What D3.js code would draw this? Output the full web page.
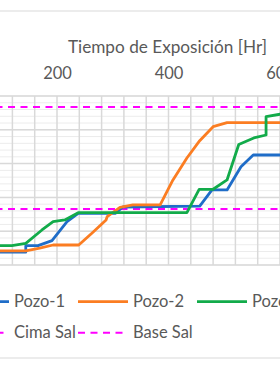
<!DOCTYPE html>
<html>
<head>
<meta charset="utf-8">
<script src="https://cdn.jsdelivr.net/npm/d3@7"></script>
<style>
  html, body { margin: 0; padding: 0; background: #ffffff; }
  svg { display: block; }
  text { font-family: Lato, "Open Sans", sans-serif; fill: #595959; }
</style>
</head>
<body>
<svg id="chart" width="280" height="376"></svg>
<script>
// ---- data (hours of exposure vs depth in m) ----
const seriesNames = ["Pozo-1", "Pozo-2", "Pozo-3"];
const seriesColors = ["#1f6dc8", "#fb7d22", "#12ab4a"];

const pozo1Hours = [0, 144, 144, 166, 191, 218, 238, 305, 318, 456, 478, 505, 530, 552, 640];
const pozo1Depth = [5310, 5310, 5214, 5214, 5140, 4859, 4735, 4735, 4642, 4630, 4390, 4390, 4046, 3873, 3873];

const pozo2Hours = [0, 144, 169, 193, 239, 263, 288, 290, 313, 336, 385, 408, 433, 456, 480, 505, 640];
const pozo2Depth = [5290, 5290, 5252, 5204, 5204, 5026, 4834, 4785, 4646, 4612, 4612, 4242, 3917, 3661, 3454, 3395, 3395];

const pozo3Hours = [0, 119, 144, 173, 193, 214, 238, 433, 455, 480, 505, 526, 553, 575, 575, 600, 640];
const pozo3Depth = [5214, 5214, 5179, 4982, 4859, 4834, 4726, 4726, 4380, 4380, 4242, 3717, 3621, 3577, 3306, 3270, 3250];

const refNames = ["Cima Sal", "Base Sal"];
const refDepths = [3163, 4671];
const refColor = "#ff00ff";

const xTickValues = [200, 400, 600];
const xAxisTitle = "Tiempo de Exposición [Hr]";

// ---- layout ----
const svg = d3.select("#chart");
const plotTop = 96, plotBottom = 265;
const x = d3.scaleLinear().domain([200, 400]).range([57, 168.5]);
const y = d3.scaleLinear().domain([3000, 5500]).range([plotTop, plotBottom]);
const xMin = 0, xMax = 800;

svg.append("rect").attr("x", 0).attr("y", 0).attr("width", 280).attr("height", 376).attr("fill", "#fff");
// outer chart border
svg.append("rect").attr("x", -20).attr("y", 11).attr("width", 320).attr("height", 347)
  .attr("fill", "none").attr("stroke", "#d9d9d9").attr("stroke-width", 1);

// minor horizontal grid
const g = svg.append("g");
g.selectAll("line.hminor").data(d3.range(3000, 5501, 100)).join("line")
  .attr("x1", x(xMin)).attr("x2", x(xMax))
  .attr("y1", d => y(d)).attr("y2", d => y(d))
  .attr("stroke", "#ececec").attr("stroke-width", 1);
// vertical grid
g.selectAll("line.v").data(d3.range(0, 801, 40)).join("line")
  .attr("x1", d => x(d)).attr("x2", d => x(d))
  .attr("y1", plotTop).attr("y2", plotBottom)
  .attr("stroke", "#d9d9d9").attr("stroke-width", 1.5);
// major horizontal grid
g.selectAll("line.hmajor").data(d3.range(3000, 5501, 500)).join("line")
  .attr("x1", x(xMin)).attr("x2", x(xMax))
  .attr("y1", d => y(d)).attr("y2", d => y(d))
  .attr("stroke", "#d9d9d9").attr("stroke-width", 1.5);

// top axis
const axis = d3.axisTop(x).tickValues(xTickValues).tickSize(0).tickPadding(0);
const ax = svg.append("g").attr("transform", `translate(0,${plotTop})`).call(axis);
ax.select(".domain").remove();
ax.selectAll("text").attr("y", -17).attr("font-size", 16.5).attr("fill", "#595959")
  .style("font-family", "Lato, 'Open Sans', sans-serif");

svg.append("text").attr("x", 167.5).attr("y", 53).attr("text-anchor", "middle")
  .attr("font-size", 17.2).text(xAxisTitle);

// reference lines
refDepths.forEach(d => {
  svg.append("line").attr("x1", x(xMin)).attr("x2", x(xMax))
    .attr("y1", y(d)).attr("y2", y(d))
    .attr("stroke", refColor).attr("stroke-width", 2).attr("stroke-dasharray", "7,5.5");
});

// series
const hours = [pozo1Hours, pozo2Hours, pozo3Hours];
const depths = [pozo1Depth, pozo2Depth, pozo3Depth];
const line = d3.line().x(d => x(d[0])).y(d => y(d[1]));
[0, 1, 2].forEach(i => {
  const pts = hours[i].map((h, k) => [h, depths[i][k]]);
  svg.append("path").datum(pts).attr("d", line)
    .attr("fill", "none").attr("stroke", seriesColors[i])
    .attr("stroke-width", 2.8).attr("stroke-linejoin", "round");
});

// legend
const legX0 = -41, colW = 119, swatch = 50;
const rows = [301.7, 332.7];
seriesNames.forEach((n, i) => {
  const lx = legX0 + i * colW;
  svg.append("line").attr("x1", lx).attr("x2", lx + swatch).attr("y1", rows[0]).attr("y2", rows[0])
    .attr("stroke", seriesColors[i]).attr("stroke-width", 2.8);
  svg.append("text").attr("x", lx + swatch + 5).attr("y", rows[0]).attr("dy", "0.35em")
    .attr("font-size", 16.5).text(n);
});
refNames.forEach((n, i) => {
  const lx = legX0 + i * colW;
  svg.append("line").attr("x1", lx).attr("x2", lx + swatch).attr("y1", rows[1]).attr("y2", rows[1])
    .attr("stroke", refColor).attr("stroke-width", 2).attr("stroke-dasharray", "7,5.5");
  svg.append("text").attr("x", lx + swatch + 5).attr("y", rows[1]).attr("dy", "0.35em")
    .attr("font-size", 16.5).text(n);
});
</script>
</body>
</html>
